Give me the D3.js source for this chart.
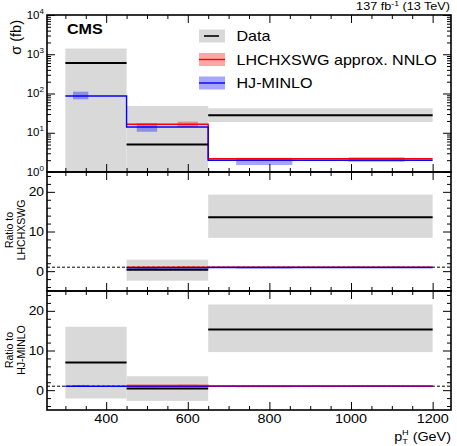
<!DOCTYPE html>
<html>
<head>
<meta charset="utf-8">
<script src="https://cdn.jsdelivr.net/npm/d3@7"></script>
<style>
  body { margin: 0; background: #fff; }
  text { font-family: "Liberation Sans", Arial, Helvetica, sans-serif; fill: #000; }
</style>
</head>
<body>
<svg id="chart"></svg>
<script>
// Bin edges in pT (GeV)
const binEdges = [300, 450, 650, 1200];

// Cross sections (fb)
const dataXsec = [600, 5, 28];
const dataXsecLo = [0, 0, 18.8];
const dataXsecHi = [1400, 48, 42];
const hjXsec = [86, 14, 2.0];
const hjLo = [71, 10.6, 1.5];
const hjHi = [111, 17.4, 2.3];
const lhcXsec = [null, 16.4, 2.18];
const lhcLo = [null, 13.9, 1.8];
const lhcHi = [null, 19.3, 2.4];

// Ratios of data to predictions
const ratioLhcData = [null, 0.35, 13.6];
const ratioLhcLo = [null, -2.4, 8.4];
const ratioLhcHi = [null, 2.9, 19.3];
const ratioHjData = [7.0, 0.43, 15.3];
const ratioHjLo = [-2.1, -2.7, 9.6];
const ratioHjHi = [16, 3.5, 21.6];

// Ticks
const xTicks = [400, 600, 800, 1000, 1200];
const logExponents = [0, 1, 2, 3, 4];
const ratioTicks = [0, 10, 20];

const legendLabels = ['Data', 'LHCHXSWG approx. NNLO', 'HJ-MINLO'];

const W = 457, H = 446;
const left = 47, right = 451;
const sx = 1.15; // text is a bit wider than tall in the original

const svg = d3.select('#chart').attr('width', W).attr('height', H);

const x = d3.scaleLinear().domain([255, 1245]).range([left, right]);

const panels = [
  { top: 15, bottom: 172, y: d3.scaleLog().domain([1, 1e4]).range([172, 15]), log: true },
  { top: 172, bottom: 291, y: d3.scaleLinear().domain([-5, 25]).range([291, 172]) },
  { top: 291, bottom: 410, y: d3.scaleLinear().domain([-5, 25]).range([410, 291]) }
];

const bins = binEdges.slice(0, -1).map((lo, i) => ({ lo, hi: binEdges[i + 1], i }));

const RED = '#f00', BLUE = '#00f';
const RED_BAND = 'rgba(255,0,0,0.35)', BLUE_BAND = 'rgba(0,0,255,0.35)';
const GRAY = '#d9d9d9';

function stretchedText(g, px, py, anchor) {
  return g.append('text')
    .attr('transform', `translate(${px},${py}) scale(${sx},1)`)
    .attr('text-anchor', anchor || 'start');
}

function safe(p, v) { return p.log ? Math.max(v, 0.3) : v; }

function drawBands(g, p, lo, hi, color, f0, f1) {
  bins.filter(b => lo[b.i] != null).forEach(b => {
    const w = b.hi - b.lo;
    const x0 = x(b.lo + f0 * w), x1 = x(b.lo + f1 * w);
    const y0 = p.y(safe(p, hi[b.i])), y1 = p.y(safe(p, lo[b.i]));
    g.append('rect')
      .attr('x', x0).attr('y', y0)
      .attr('width', x1 - x0).attr('height', y1 - y0)
      .attr('fill', color);
  });
}

function drawStep(g, p, vals, color) {
  const pts = [];
  bins.forEach(b => { if (vals[b.i] != null) pts.push([b.lo, vals[b.i]]); });
  const last = bins[bins.length - 1];
  pts.push([last.hi, vals[last.i]]);
  g.append('path')
    .attr('d', d3.line().x(d => x(d[0])).y(d => p.y(d[1])).curve(d3.curveStepAfter)(pts))
    .attr('fill', 'none').attr('stroke', color).attr('stroke-width', 1.4);
}

function drawData(g, p, vals) {
  bins.filter(b => vals[b.i] != null).forEach(b => {
    g.append('line')
      .attr('x1', x(b.lo)).attr('x2', x(b.hi))
      .attr('y1', p.y(vals[b.i])).attr('y2', p.y(vals[b.i]))
      .attr('stroke', '#000').attr('stroke-width', 2);
  });
}

function drawDashed(g, p) {
  g.append('line')
    .attr('x1', left).attr('x2', right)
    .attr('y1', p.y(1)).attr('y2', p.y(1))
    .attr('stroke', '#000').attr('stroke-width', 1).attr('stroke-dasharray', '3,2');
}

function ratio(a, b) { return a.map((v, i) => (v == null || b[i] == null) ? null : v / b[i]); }

// clip paths
const defs = svg.append('defs');
panels.forEach((p, k) => {
  defs.append('clipPath').attr('id', 'clip' + k)
    .append('rect').attr('x', left).attr('y', p.top)
    .attr('width', right - left).attr('height', p.bottom - p.top);
  p.g = svg.append('g').attr('clip-path', `url(#clip${k})`);
});

// Top panel: cross sections
{
  const p = panels[0], g = p.g;
  drawBands(g, p, dataXsecLo, dataXsecHi, GRAY, 0, 1);
  drawBands(g, p, hjLo, hjHi, BLUE_BAND, 1 / 8, 3 / 8);
  drawBands(g, p, lhcLo, lhcHi, RED_BAND, 5 / 8, 7 / 8);
  drawStep(g, p, lhcXsec, RED);
  drawStep(g, p, hjXsec, BLUE);
  drawData(g, p, dataXsec);
}

// Middle panel: ratio to LHCHXSWG
{
  const p = panels[1], g = p.g;
  drawBands(g, p, ratioLhcLo, ratioLhcHi, GRAY, 0, 1);
  drawBands(g, p, ratio(hjLo, lhcXsec), ratio(hjHi, lhcXsec), BLUE_BAND, 1 / 8, 3 / 8);
  drawBands(g, p, ratio(lhcLo, lhcXsec), ratio(lhcHi, lhcXsec), RED_BAND, 5 / 8, 7 / 8);
  drawDashed(g, p);
  drawStep(g, p, ratio(lhcXsec, lhcXsec), RED);
  drawStep(g, p, ratio(hjXsec, lhcXsec), BLUE);
  drawData(g, p, ratioLhcData);
}

// Bottom panel: ratio to HJ-MINLO
{
  const p = panels[2], g = p.g;
  drawBands(g, p, ratioHjLo, ratioHjHi, GRAY, 0, 1);
  drawBands(g, p, ratio(hjLo, hjXsec), ratio(hjHi, hjXsec), BLUE_BAND, 1 / 8, 3 / 8);
  drawBands(g, p, ratio(lhcLo, hjXsec), ratio(lhcHi, hjXsec), RED_BAND, 5 / 8, 7 / 8);
  drawDashed(g, p);
  drawStep(g, p, ratio(hjXsec, hjXsec), BLUE);
  drawStep(g, p, ratio(lhcXsec, hjXsec), RED);
  drawData(g, p, ratioHjData);
}

// Axes ticks (inward on all four sides)
const minorX = d3.range(300, 1250, 50).filter(v => !xTicks.includes(v));
const noDomain = s => s.select('.domain').remove();

panels.forEach(p => {
  const ax = svg.append('g');
  [[d3.axisBottom, p.top], [d3.axisTop, p.bottom]].forEach(([axis, yy]) => {
    ax.append('g').attr('transform', `translate(0,${yy})`)
      .call(axis(x).tickValues(xTicks).tickSize(8).tickFormat('')).call(noDomain);
    ax.append('g').attr('transform', `translate(0,${yy})`)
      .call(axis(x).tickValues(minorX).tickSize(4).tickFormat('')).call(noDomain);
  });
  let major, minor;
  if (p.log) {
    major = logExponents.map(e => Math.pow(10, e));
    minor = [];
    logExponents.slice(0, -1).forEach(e => d3.range(2, 10).forEach(m => minor.push(m * Math.pow(10, e))));
  } else {
    major = ratioTicks;
    minor = d3.range(-4, 25, 2).filter(v => !ratioTicks.includes(v));
  }
  [[d3.axisRight, left], [d3.axisLeft, right]].forEach(([axis, xx]) => {
    ax.append('g').attr('transform', `translate(${xx},0)`)
      .call(axis(p.y).tickValues(major).tickSize(8).tickFormat('')).call(noDomain);
    ax.append('g').attr('transform', `translate(${xx},0)`)
      .call(axis(p.y).tickValues(minor).tickSize(4).tickFormat('')).call(noDomain);
  });
  ax.selectAll('line').attr('stroke', '#000').attr('stroke-width', 1);
});

// Frames
panels.forEach(p => {
  svg.append('rect')
    .attr('x', left).attr('y', p.top)
    .attr('width', right - left).attr('height', p.bottom - p.top)
    .attr('fill', 'none').attr('stroke', '#000').attr('stroke-width', 1.6);
});

// Tick labels
logExponents.forEach(e => {
  const t = stretchedText(svg, 44, panels[0].y(Math.pow(10, e)) + 3.5, 'end');
  t.append('tspan').attr('font-size', 10).text('10');
  t.append('tspan').attr('font-size', 7).attr('dy', -5).text(e);
});
[panels[1], panels[2]].forEach(p => {
  ratioTicks.forEach(v => {
    stretchedText(svg, 44, p.y(v) + 4.5, 'end').attr('font-size', 12).text(v);
  });
});
xTicks.forEach(v => {
  stretchedText(svg, x(v), 423, 'middle').attr('font-size', 12.5).text(v);
});

// Axis titles
svg.append('text')
  .attr('transform', 'translate(21,20) rotate(-90)')
  .attr('text-anchor', 'end').attr('font-size', 14.5)
  .text('σ (fb)');

[[panels[1], 'LHCHXSWG', 230], [panels[2], 'HJ-MINLO', 350]].forEach(([p, name, cy]) => {
  const t = svg.append('text')
    .attr('transform', `translate(0,${cy}) rotate(-90)`)
    .attr('text-anchor', 'middle').attr('font-size', 10.5);
  t.append('tspan').attr('x', 0).attr('y', 13).text('Ratio to');
  t.append('tspan').attr('x', 0).attr('y', 24.5).text(name);
});

{
  const t = stretchedText(svg, 451, 441, 'end').attr('font-size', 12.5);
  t.append('tspan').text('p');
  t.append('tspan').attr('font-size', 8).attr('dy', 2.5).text('T');
  t.append('tspan').attr('font-size', 8).attr('dx', -5).attr('dy', -8.5).text('H');
  t.append('tspan').attr('dy', 6).text(' (GeV)');
}

// CMS label and luminosity
stretchedText(svg, 67, 34).attr('font-size', 14).attr('font-weight', 'bold').text('CMS');
{
  const t = stretchedText(svg, 450, 10, 'end').attr('font-size', 11);
  t.append('tspan').text('137 fb');
  t.append('tspan').attr('font-size', 7.5).attr('dy', -4).text('-1');
  t.append('tspan').attr('dy', 4).text(' (13 TeV)');
}

// Legend
const legend = svg.append('g');
const rowY = [36, 59.5, 83];
const swatchFill = [GRAY, RED_BAND, BLUE_BAND];
const swatchLine = ['#000', RED, BLUE];
legendLabels.forEach((name, i) => {
  legend.append('rect')
    .attr('x', 199).attr('y', rowY[i] - 6.5)
    .attr('width', 26).attr('height', 13)
    .attr('fill', swatchFill[i]);
  legend.append('line')
    .attr('x1', i === 0 ? 204 : 199).attr('x2', i === 0 ? 219 : 225)
    .attr('y1', rowY[i]).attr('y2', rowY[i])
    .attr('stroke', swatchLine[i]).attr('stroke-width', i === 0 ? 1.6 : 1.4);
  stretchedText(legend, 236.5, rowY[i] + 5).attr('font-size', 14).text(name);
});
</script>
</body>
</html>
